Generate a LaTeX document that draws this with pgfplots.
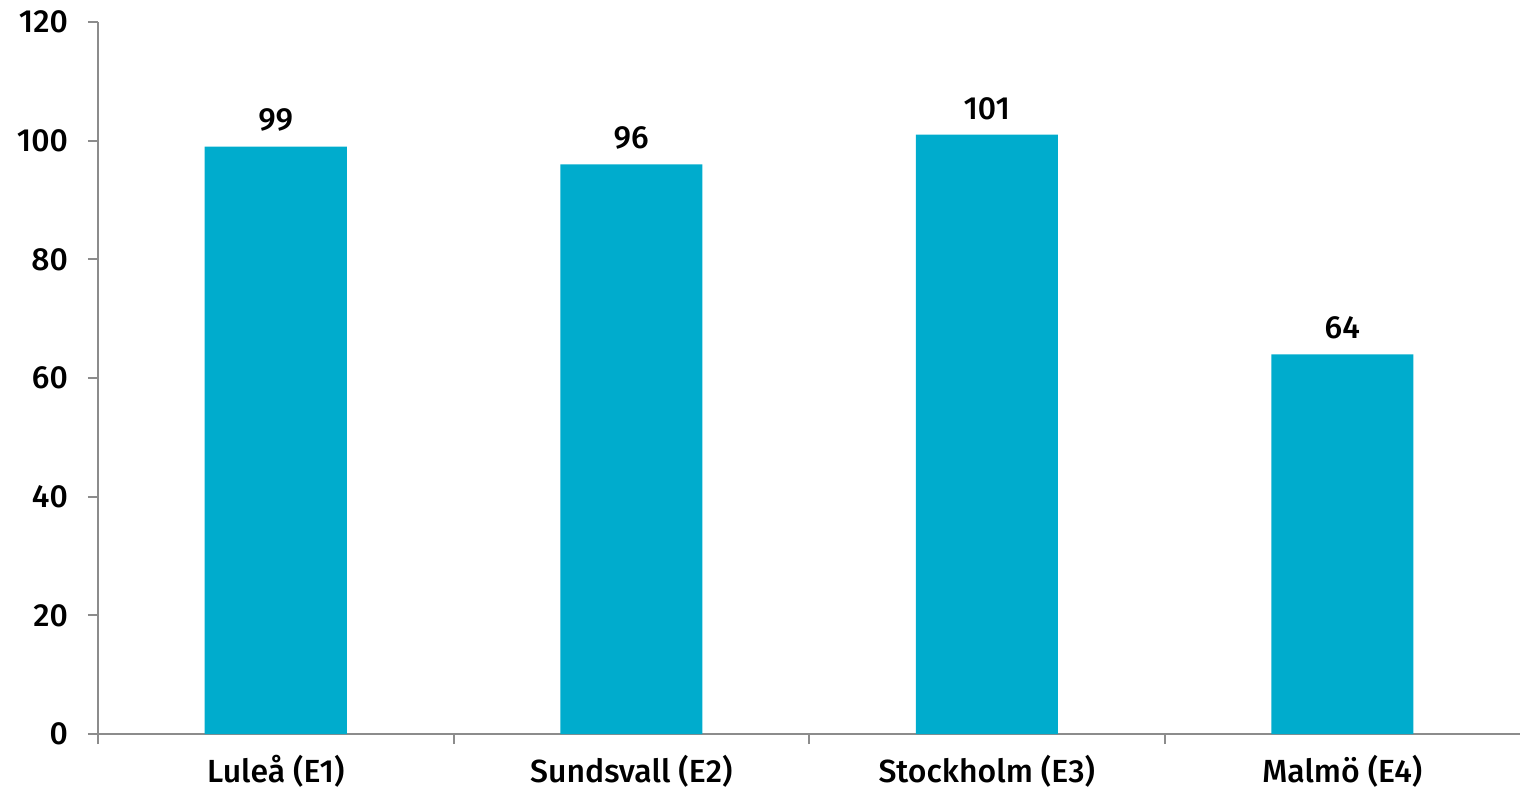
\documentclass[border=0pt]{standalone}
\usepackage{fontspec}
\setmainfont{Fira Sans}[BoldFont={* Medium}]
\usepackage{pgfplots}
\pgfplotsset{compat=1.18}
\definecolor{barblue}{HTML}{00ACCD}
\definecolor{axgray}{HTML}{8C8C8C}
\begin{document}
\begin{tikzpicture}
\useasboundingbox (-49pt,-27.5pt) rectangle (711pt,367pt);
\begin{axis}[
  scale only axis,
  width=711pt, height=356pt,
  xmin=-0.5, xmax=3.5,
  ymin=0, ymax=120,
  ytick={0,20,40,60,80,100,120},
  xtick={0,1,2,3},
  xticklabels={Luleå (E1),Sundsvall (E2),Stockholm (E3),Malmö (E4)},
  minor xtick={-0.5,0.5,1.5,2.5},
  major x tick style={draw=none},
  tick align=outside,
  major tick length=5pt, minor tick length=5pt,
  axis x line*=bottom, axis y line*=left,
  axis line style={axgray, line width=1pt, -},
  tick style={axgray, line width=1pt},
  ticklabel style={font=\fontsize{16}{18}\selectfont\bfseries},
  yticklabel style={xshift=-6.5pt},
  xticklabel style={yshift=-4pt, text height=11.5pt, text depth=3pt},
  /pgf/number format/assume math mode=true,
  ybar, bar width=71pt,
  nodes near coords,
  nodes near coords style={font=\fontsize{16}{18}\selectfont\bfseries, yshift=4pt},
  clip=false,
]
\addplot[fill=barblue, draw=none] coordinates {(0,99) (1,96) (2,101) (3,64)};
\end{axis}
\end{tikzpicture}
\end{document}
